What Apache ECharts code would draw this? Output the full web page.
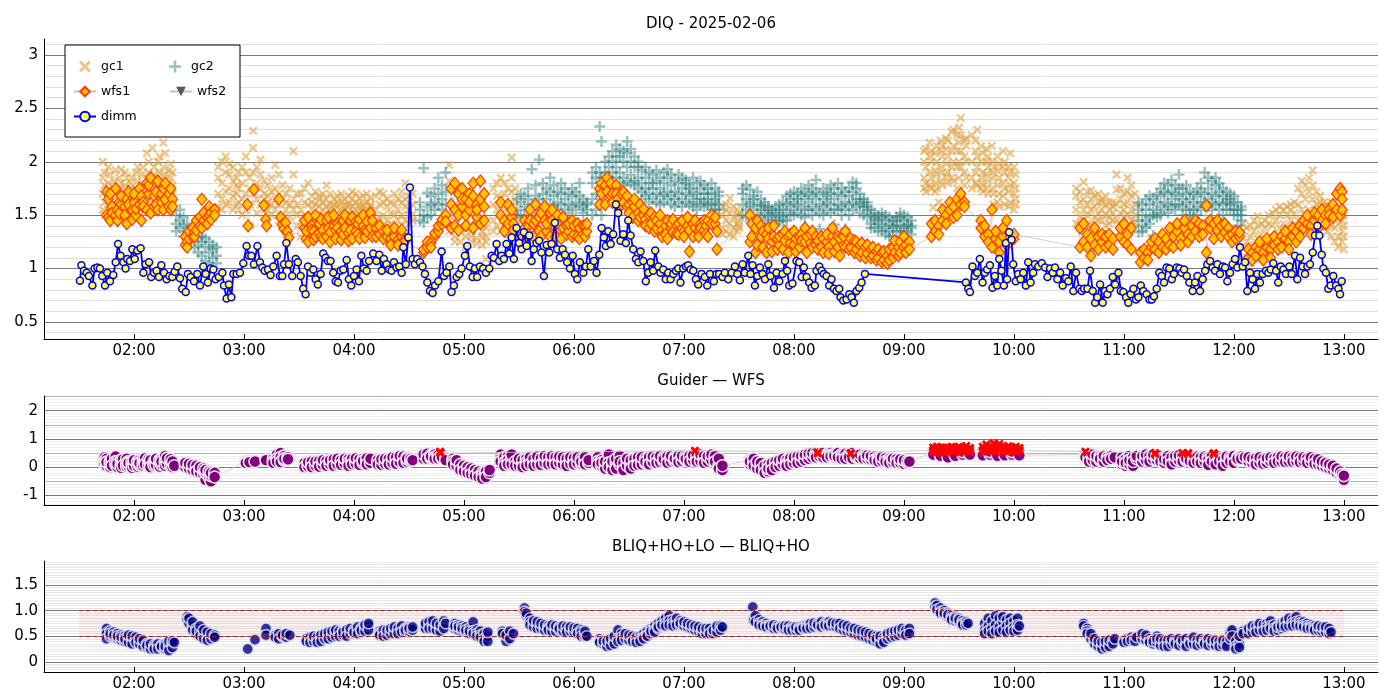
<!DOCTYPE html>
<html><head><meta charset="utf-8">
<script src="https://cdn.jsdelivr.net/npm/echarts@6/dist/echarts.min.js"></script>
<style>html,body{margin:0;padding:0;background:#fff}#c{width:1400px;height:700px}</style>
</head><body><div id="c"></div>
<script>
// time in minutes after 00:00
const hourTicks=[120,180,240,300,360,420,480,540,600,660,720,780];
const hourLabels=['02:00','03:00','04:00','05:00','06:00','07:00','08:00','09:00','10:00','11:00','12:00','13:00'];
const topMajor=[0.5,1,1.5,2,2.5,3], topLabels=['0.5','1','1.5','2','2.5','3'];
const midMajor=[-1,0,1,2], midLabels=['-1','0','1','2'], midHalf=[-0.5,0.5,1.5,2.5];
const botMajor=[0,0.5,1,1.5], botLabels=['0','0.5','1.0','1.5'];
const thresholds=[0.5,1.0];
const bandSpan=[90,780];

// rows: [time, value, value, ...]
const gc1Rows=[
[103,1.7,1.85,1.55,2.0],[104,1.78,1.62,1.9,1.5],[106,1.65,1.8,1.95,1.55],[107,1.72,1.88,1.6,1.5],[109,1.68,1.82,1.58,1.75],[110,1.92,1.7,1.6,1.5],[112,1.75,1.85,1.62,1.52],[113,1.7,1.8,1.58,1.93],[115,1.66,1.78,1.9,1.55],[116,1.72,1.85,1.6,1.5],[118,1.68,1.8,1.58,1.75],[119,1.85,1.7,1.62,1.52],[121,1.75,1.9,1.6,1.55],[122,1.7,1.82,1.95,1.58],[124,1.78,1.65,1.88,1.55],[125,1.8,1.95,1.68,1.6],[127,1.85,2.08,1.7,1.62],[128,1.9,1.75,2.0,1.65],[130,1.82,2.13,1.7,1.6],[131,1.95,1.78,1.88,1.62],[133,1.85,2.0,1.72,1.6],[134,1.9,1.78,1.68,2.05],[136,1.82,1.95,1.7,2.18],[137,1.88,2.08,1.75,1.65],[139,1.8,1.92,1.7,1.62],[140,1.85,1.75,1.98,1.6],[141,1.78,1.7,1.9,1.65],
[166,1.7,1.85,1.58,1.95],[168,1.8,1.65,2.0,1.55],[170,1.9,1.72,1.6,2.05],[172,1.75,1.88,1.62,1.98],[174,1.82,1.68,1.55,1.95],[176,1.7,1.85,1.6,1.78],[177,1.75,1.62,1.9,1.55],
[179,1.8,1.65,1.95,1.5],[181,1.9,1.7,2.05,1.55],[183,1.85,1.6,1.75,1.4],[185,2.29,2.13,1.9,1.7],[187,1.8,1.95,1.65,1.52],[189,1.75,1.88,1.6,2.02],[191,1.7,1.82,1.55,1.65],[193,1.68,1.78,1.55,1.62],[195,1.72,1.6,1.85,1.5],[197,1.97,1.65,1.75,1.55],
[199,1.88,1.6,1.7,1.45],[201,1.65,1.5,1.78,1.4],[203,1.7,1.55,1.62,1.35],[205,1.6,1.75,1.48,1.3],[207,2.1,1.88,1.55,1.65],[209,1.6,1.5,1.7,1.4],
[211,1.55,1.7,1.4,1.3],[213,1.62,1.5,1.75,1.28],[215,1.48,1.6,1.8,1.35],[217,1.55,1.68,1.45,1.62],[219,1.6,1.5,1.72,1.48],[221,1.58,1.68,1.5,1.65],[223,1.62,1.55,1.7,1.5],[225,1.58,1.65,1.48,1.78],[227,1.6,1.52,1.7,1.55],[229,1.65,1.55,1.6,1.5],[231,1.58,1.68,1.5,1.62],[233,1.62,1.52,1.7,1.55],[235,1.55,1.65,1.6,1.5],[237,1.6,1.68,1.52,1.58],[239,1.58,1.5,1.65,1.72],[241,1.62,1.55,1.7,1.5],[243,1.56,1.66,1.6,1.5],[245,1.6,1.52,1.68,1.58],[247,1.55,1.62,1.7,1.5],[249,1.6,1.52,1.66,1.58],
[252,1.55,1.68,1.45,1.35],[254,1.6,1.48,1.72,1.3],[256,1.5,1.62,1.4,1.7],[258,1.58,1.45,1.65,1.35],[260,1.52,1.62,1.42,1.3],[262,1.6,1.5,1.7,1.38],[264,1.55,1.65,1.45,1.32],[266,1.62,1.5,1.72,1.4],[268,1.8,1.58,1.45,1.65],[270,1.55,1.68,1.42,1.5],[272,1.6,1.5,1.7,1.45],
[292,1.97,1.82,1.5,1.35],[295,1.45,1.3,1.6,1.25],[298,1.4,1.25,1.55,1.35],[301,1.45,1.3,1.2,1.38],[304,1.35,1.25,1.42,1.3],[307,1.4,1.28,1.23,1.5],[310,1.35,1.22,1.3,1.45],[312,1.09,1.3,1.38,1.25],
[316,1.6,1.75,1.45,1.35],[318,1.8,1.55,1.68,1.4],[320,1.65,1.85,1.5,1.35],[322,1.7,1.55,1.8,1.42],[324,1.6,1.75,1.48,1.32],[326,1.72,1.58,1.85,2.04],[328,1.65,1.5,1.75,1.4],
[441,1.5,1.38,1.58,1.32],[443,1.45,1.55,1.35,1.6],[445,1.66,1.42,1.52,1.32],[447,1.48,1.58,1.38,1.3],[449,1.55,1.42,1.5,1.35],[450,1.45,1.52,1.38,1.4],
[551,1.85,2.0,1.75,2.1],[552,1.95,1.8,2.12,1.72],[554,1.9,2.05,1.78,2.18],[555,2.0,1.85,1.75,2.1],[556,1.57],[557,1.92,2.08,1.8,1.72],[558,2.15,1.88,2.0,1.75],[559,1.62],[560,1.95,2.1,1.82,2.2],[561,2.05,1.9,1.78,2.15],[563,1.98,2.12,1.85,2.22],[564,2.05,1.9,2.2,1.8],[566,2.1,1.95,2.28,1.85],[567,2.0,2.15,1.82,2.3],[569,2.1,1.95,2.25,1.75],[570,2.0,2.18,1.85,2.32],[571,2.41,2.1,1.95,2.25],[573,2.05,2.2,1.9,1.78],[574,2.15,2.0,1.85,2.22],
[577,2.0,2.25,1.85,1.75],[579,2.1,1.9,2.2,1.8],[580,1.95,2.05,1.78,2.3],[582,2.0,1.85,2.15,1.75],[583,1.9,2.08,1.8,1.72],[585,2.0,1.88,2.12,1.75],[586,1.95,1.82,2.05,1.7],[588,1.9,2.0,1.75,2.15],[589,1.85,1.95,1.7,1.6],[591,1.92,1.78,2.05,1.62],[592,1.85,1.98,1.7,1.58],[594,1.8,1.95,1.68,2.1],[595,1.9,1.75,2.0,1.6],[597,1.85,1.72,1.95,1.58],[598,1.78,1.9,2.08,1.62],[600,1.8,1.7,1.95,1.55],[601,1.75,1.88,1.65,1.6],
[634,1.55,1.68,1.42,1.75],[636,1.62,1.48,1.72,1.4],[638,1.81,1.55,1.65,1.45],[640,1.6,1.72,1.5,1.4],[642,1.73,1.55,1.65,1.42],[644,1.58,1.68,1.48,1.38],[646,1.62,1.52,1.7,1.45],[648,1.55,1.65,1.45,1.62],[650,1.6,1.5,1.68,1.4],[652,1.55,1.62,1.48,1.42],[654,1.58,1.45,1.52,1.62],
[656,1.88,1.6,1.74,1.45],[658,1.65,1.52,1.75,1.42],[660,1.6,1.7,1.48,1.55],[662,1.85,1.62,1.5,1.72],[664,1.68,1.55,1.78,1.45],[666,1.6,1.7,1.5,1.42],
[725,1.2,1.35,1.1,1.42],[727,1.25,1.1,1.38,1.05],[729,1.3,1.15,1.4,1.2],[731,1.22,1.35,1.12,1.45],[733,1.28,1.4,1.18,1.49],[735,1.32,1.2,1.42,1.15],[737,1.38,1.25,1.45,1.2],[739,1.3,1.42,1.22,1.5],[741,1.4,1.28,1.52,1.25],[743,1.45,1.3,1.55,1.22],[745,1.38,1.5,1.3,1.58],[747,1.42,1.55,1.32,1.25],[749,1.5,1.35,1.58,1.28],[751,1.45,1.55,1.38,1.6],[753,1.52,1.4,1.62,1.35],[755,1.6,1.45,1.75,1.38],[757,1.55,1.7,1.45,1.82],[759,1.65,1.5,1.78,1.4],[761,1.72,1.55,1.85,1.48],[763,1.92,1.65,1.78,1.5],[765,1.6,1.72,1.45,1.55],[767,1.55,1.68,1.4,1.62],[769,1.5,1.62,1.38,1.58],[771,1.45,1.58,1.35,1.6],[773,1.52,1.4,1.62,1.3],[775,1.48,1.38,1.55,1.25],[777,1.42,1.52,1.3,1.2],[779,1.45,1.35,1.25,1.55],[780,1.4,1.3,1.5,1.18]
];
const gc2Rows=[
[143,1.5,1.42,1.35],[145,1.45,1.55,1.38],[147,1.48,1.3,1.4],[149,1.42,1.35,1.28],[151,1.38,1.25,1.32],[153,1.3,1.2,1.35],[155,1.22,1.3,1.15],[157,1.25,1.12,1.3],[159,1.2,1.07,1.28],[161,1.15,1.25,1.05],[163,1.18,1.1,1.22],[165,1.12,1.2,1.05],
[276,1.55,1.45,1.62],[278,1.94,1.5,1.43],[280,1.71,1.58,1.48],[282,1.6,1.5,1.68],[284,1.75,1.62,1.55],[286,1.85,1.7,1.6],[288,1.65,1.78,1.55],[290,1.72,1.6,1.9],
[329,1.55,1.65,1.5],[331,1.62,1.5,1.7],[333,1.58,1.68,1.48],[335,1.65,1.55,1.75],[337,1.93,1.6,1.52],[339,1.68,1.58,1.78],[341,2.02,1.65,1.55],[343,1.7,1.6,1.8],[345,1.65,1.75,1.55],[347,1.72,1.6,1.85],[349,1.68,1.78,1.58],[351,1.62,1.72,1.55],[353,1.7,1.6,1.8],[355,1.65,1.75,1.55],[357,1.6,1.7,1.52],[359,1.68,1.58,1.75],[361,1.62,1.72,1.55],[363,1.8,1.6,1.68],[365,1.58,1.65,1.52],[367,1.62,1.55,1.6],
[370,1.8,1.65,1.9,1.5],[372,1.7,1.85,1.55,1.95],[374,2.33,1.75,1.6,1.9],[375,2.19,1.85,1.68,1.5],[377,1.9,1.75,2.0,1.6],[379,2.05,1.85,1.95,1.78],[381,1.9,2.1,1.82,2.0],[383,2.16,1.95,1.85,2.05],[385,1.9,2.05,1.8,2.12],[387,2.0,1.85,2.1,1.78],[389,1.95,2.08,1.82,2.19],[391,1.88,2.0,1.8,2.12],[393,1.95,1.82,2.05,1.78],[395,1.85,1.95,1.75,2.0],[397,1.8,1.92,1.72,1.65],[399,1.85,1.75,1.95,1.68],[401,1.8,1.7,1.9,1.62],[403,1.75,1.88,1.65,1.8],[405,1.82,1.7,1.92,1.62],[407,1.75,1.85,1.68,1.6],[409,1.8,1.7,1.9,1.62],[411,1.72,1.85,1.65,1.93],[413,1.78,1.68,1.88,1.6],[415,1.72,1.82,1.65,1.58],[417,1.8,1.7,1.88,1.62],[419,1.75,1.65,1.85,1.58],[421,1.7,1.8,1.62,1.83],[423,1.78,1.68,1.6,1.75],[425,1.72,1.85,1.62,1.58],[427,1.8,1.7,1.65,1.55],[429,1.75,1.65,1.82,1.6],[431,1.7,1.78,1.62,1.58],[433,1.75,1.65,1.7,1.6],[435,1.7,1.6,1.8,1.55],[437,1.65,1.75,1.55,1.62],[439,1.72,1.6,1.68,1.55],
[452,1.6,1.75,1.5,1.7],[454,1.78,1.55,1.65,1.48],[456,1.62,1.74,1.5,1.58],[458,1.55,1.68,1.45,1.65],[460,1.6,1.5,1.72,1.45],[462,1.55,1.65,1.48,1.59],[464,1.52,1.62,1.45,1.58],[466,1.5,1.58,1.42,1.55],[468,1.48,1.55,1.42,1.52],[470,1.52,1.45,1.58,1.42],[472,1.5,1.55,1.44,1.6],[474,1.55,1.48,1.62,1.45],[476,1.6,1.52,1.68,1.45],[478,1.58,1.65,1.5,1.7],[480,1.62,1.55,1.72,1.5],[482,1.6,1.7,1.52,1.65],[484,1.58,1.68,1.5,1.75],[486,1.65,1.55,1.72,1.48],[488,1.62,1.7,1.55,1.78],[490,1.68,1.58,1.75,1.5],[492,1.83,1.65,1.55,1.72],[494,1.6,1.7,1.37,1.52],[496,1.65,1.58,1.75,1.5],[498,1.62,1.72,1.55,1.68],[500,1.7,1.6,1.78,1.52],[502,1.65,1.75,1.55,1.41],[504,1.7,1.6,1.8,1.55],[506,1.68,1.58,1.75,1.5],[508,1.62,1.72,1.37,1.55],[510,1.68,1.6,1.76,1.5],[512,1.72,1.62,1.81,1.55],[514,1.65,1.75,1.58,1.8],[516,1.6,1.7,1.52,1.65],[518,1.58,1.65,1.5,1.62],[520,1.55,1.62,1.48,1.58],[522,1.5,1.42,1.55,1.38],[524,1.45,1.52,1.38,1.48],[526,1.42,1.5,1.35,1.46],[528,1.48,1.4,1.52,1.35],[530,1.45,1.38,1.5,1.32],[532,1.42,1.48,1.35,1.3],[534,1.45,1.38,1.4,1.3],[536,1.4,1.48,1.35,1.45],[538,1.48,1.4,1.35,1.52],[540,1.45,1.38,1.5,1.34],[542,1.42,1.35,1.48,1.4],[544,1.45,1.38,1.4,1.32],
[668,1.45,1.55,1.34,1.62],[670,1.5,1.4,1.6,1.35],[672,1.55,1.45,1.65,1.38],[674,1.6,1.48,1.68,1.42],[676,1.55,1.65,1.31,1.5],[678,1.62,1.52,1.7,1.48],[680,1.68,1.58,1.75,1.5],[682,1.62,1.72,1.55,1.8],[684,1.7,1.6,1.78,1.52],[686,1.83,1.65,1.58,1.72],[688,1.7,1.6,1.78,1.55],[690,1.88,1.68,1.6,1.75],[692,1.65,1.75,1.58,1.5],[694,1.7,1.62,1.55,1.78],[696,1.65,1.55,1.72,1.5],[698,1.62,1.7,1.55,1.48],[700,1.68,1.58,1.75,1.5],[702,1.72,1.62,1.55,1.8],[704,1.9,1.7,1.62,1.58],[706,1.75,1.65,1.85,1.58],[708,1.7,1.82,1.62,1.55],[710,1.78,1.68,1.6,1.85],[712,1.72,1.62,1.8,1.55],[714,1.68,1.75,1.6,1.5],[716,1.65,1.72,1.55,1.62],[718,1.7,1.6,1.55,1.65],[720,1.62,1.55,1.68,1.5],[722,1.62,1.4,1.55,1.5],[724,1.58,1.5,1.55,1.45]
];
const wfs1Rows=[
[105,1.72,1.5],[106,1.65,1.48],[107,1.7,1.45],[108,1.58,1.52],[110,1.75,1.5],[111,1.55,1.45],[112,1.62,1.52],[113,1.6,1.68],[115,1.58,1.5],[116,1.65,1.42],[117,1.6,1.72],[119,1.55,1.46],[120,1.62,1.7],[121,1.5,1.56],[123,1.6,1.75],[124,1.68,1.45],[125,1.62,1.58],[127,1.8,1.55],[128,1.7,1.78],[129,1.85,1.52],[131,1.68,1.58],[132,1.6,1.72],[133,1.82,1.55],[135,1.7,1.62],[136,1.75,1.55],[137,1.65,1.8],[139,1.7,1.58],[140,1.75,1.55],[141,1.65,1.58],
[148,1.22,1.3],[149,1.25,1.2],[150,1.28,1.35],[152,1.3,1.38],[153,1.34,1.3],[154,1.36,1.45],[156,1.4,1.48],[157,1.65,1.38],[158,1.45,1.52],[160,1.48,1.42],[161,1.5,1.58],[162,1.52,1.46],[164,1.55,1.5],
[181.8,1.6],[182.2,1.4],[185.4,1.74],[190.9,1.59],[191.8,1.46],[192.3,1.4],[199,1.65],[200,1.48],[200.9,1.41],[201.8,1.37],[202.7,1.43],[203.6,1.35],[204.5,1.29],
[213,1.38,1.45],[214,1.28,1.35],[215,1.48,1.25],[217,1.4,1.36],[218,1.27,1.35],[219,1.5,1.3],[221,1.33,1.42],[222,1.3,1.46],[223,1.36,1.28],[225,1.45,1.3],[226,1.38,1.48],[227,1.34,1.25],[229,1.4,1.5],[230,1.36,1.28],[231,1.42,1.38],[233,1.35,1.27],[234,1.32,1.45],[235,1.38,1.5],[237,1.33,1.26],[238,1.45,1.36],[239,1.28,1.48],[241,1.35,1.44],[242,1.42,1.32],[243,1.46,1.28],[245,1.4,1.5],[246,1.36,1.29],[247,1.44,1.35],[249,1.38,1.52],[250,1.3,1.45],
[252,1.38,1.3],[254,1.32,1.4],[256,1.35,1.28],[258,1.3,1.36],[260,1.28,1.22],[262,1.3,1.38],[264,1.27,1.22],[266,1.3,1.36],[268,1.28,1.26],
[278,1.15,1.18],[280,1.2,1.25],[282,1.24,1.2],[284,1.3,1.33],[286,1.35,1.4],[288,1.42,1.46],[290,1.5,1.44],
[293,1.6,1.75,1.38],[295,1.8,1.55,1.4],[297,1.7,1.5,1.36],[299,1.75,1.58,1.65],[301,1.65,1.5,1.4],[303,1.55,1.7,1.62],[305,1.68,1.8,1.38],[307,1.6,1.48,1.55],[309,1.82,1.65,1.42],[311,1.7,1.58,1.45],
[320,1.5,1.62],[322,1.45,1.35],[324,1.6,1.42],[326,1.48,1.55],[327,1.42,1.36],
[332,1.35,1.3],[333,1.45,1.38],[335,1.4,1.32],[336,1.55,1.45],[338,1.42,1.3],[339,1.6,1.45],[341,1.48,1.35],[342,1.52,1.3],[344,1.45,1.58],[345,1.35,1.42],[347,1.52,1.3],[348,1.45,1.55],[350,1.38,1.3],[351,1.42,1.5],[353,1.36,1.28],[354,1.48,1.38],[356,1.4,1.32],[357,1.35,1.42],[359,1.45,1.3],[360,1.32,1.4],[362,1.42,1.3],[363,1.38,1.28],[365,1.32,1.4],[366,1.4,1.3],[367,1.35,1.42],
[374,1.6,1.75],[375,1.7,1.8],[377,1.78,1.6],[378,1.72,1.85],[380,1.8,1.68],[381,1.7,1.62],[383,1.78,1.7],[384,1.65,1.58],[386,1.7,1.6],[387,1.62,1.72],[389,1.68,1.58],[390,1.6,1.52],[392,1.62,1.48],[393,1.58,1.65],[395,1.52,1.45],[396,1.6,1.48],[398,1.5,1.56],[399,1.46,1.4],[401,1.5,1.38],[402,1.42,1.52],[404,1.48,1.35],[405,1.38,1.45],[407,1.42,1.5],[408,1.36,1.3],[410,1.4,1.32],[411,1.45,1.28],[413,1.38,1.42],[414,1.34,1.46],[416,1.4,1.33],[417,1.32,1.42],[419,1.38,1.45],[420,1.35,1.3],[422,1.4,1.48],[423,1.36,1.16],[425,1.42,1.3],[426,1.38,1.45],[428,1.35,1.3],[429,1.42,1.38],[431,1.36,1.45],[432,1.4,1.32],[433,1.45,1.3],[435,1.5,1.42],[437,1.42,1.48],[438,1.35,1.18],
[456,1.5,1.25],[457,1.42,1.3],[459,1.38,1.15],[460,1.45,1.22],[462,1.3,1.4],[463,1.35,1.2],[465,1.32,1.15],[466,1.38,1.28],[468,1.25,1.16],[469,1.3,1.4],[471,1.28,1.18],[472,1.22,1.3],[474,1.32,1.18],[475,1.26,1.35],[477,1.3,1.15],[478,1.24,1.32],[480,1.35,1.22],[481,1.28,1.16],[483,1.2,1.3],[484,1.32,1.26],[486,1.25,1.38],[487,1.3,1.15],[489,1.24,1.32],[490,1.2,1.35],[492,1.22,1.3],[493,1.26,1.18],[495,1.2,1.3],[496,1.28,1.15],[498,1.25,1.32],[499,1.2,1.14],[501,1.3,1.38],[502,1.25,1.16],[504,1.2,1.3],[505,1.28,1.12],[507,1.22,1.3],[508,1.35,1.2],[510,1.25,1.18],[511,1.2,1.28],[513,1.26,1.15],[514,1.18,1.25],[516,1.22,1.12],[517,1.15,1.24],[519,1.2,1.1],[520,1.14,1.22],[522,1.18,1.1],[523,1.12,1.2],[525,1.16,1.08],[526,1.1,1.18],[528,1.15,1.06],[529,1.08,1.16],[531,1.12,1.05],[532,1.18,1.08],[534,1.1,1.2],[535,1.15,1.26],[537,1.2,1.12],[538,1.25,1.15],[540,1.3,1.2],[541,1.22,1.15],[543,1.25,1.18],
[555,1.3,1.42],[557,1.35,1.45],[559,1.4,1.32],[561,1.45,1.55],[563,1.5,1.42],[565,1.55,1.62],[567,1.58,1.48],[569,1.65,1.5],[571,1.6,1.7],[573,1.62,1.58],
[582,1.45,1.38],[584,1.4,1.3],[586,1.32,1.25],[588,1.55,1.2],[590,1.28,1.35],[592,1.25,1.15],[594,1.3,1.38],[596,1.22,1.45],[598,1.3,1.25],[600,1.28,1.32],
[636,1.2,1.38],[638,1.25,1.42],[640,1.32,1.2],[642,1.28,1.12],[644,1.22,1.38],[646,1.3,1.18],[648,1.25,1.32],[650,1.3,1.2],[652,1.22,1.32],[654,1.28,1.18],
[658,1.3,1.38],[660,1.25,1.42],[662,1.32,1.22],[664,1.38,1.18],
[669,1.06,1.15],[671,1.1,1.18],[673,1.15,1.08],[675,1.2,1.25],[677,1.18,1.28],[679,1.25,1.15],[681,1.2,1.32],[683,1.28,1.18],[685,1.22,1.38],[687,1.3,1.2],[689,1.35,1.42],[691,1.28,1.22],[693,1.38,1.45],[695,1.32,1.25],[697,1.4,1.3],[699,1.35,1.45],[701,1.3,1.42],[703,1.4,1.32],[705,1.59,1.15],[707,1.38,1.45],[709,1.42,1.28],[711,1.36,1.45],[713,1.4,1.3],[715,1.34,1.42],[717,1.38,1.3],[719,1.32,1.25],[721,1.35,1.28],[723,1.3,1.34],
[728,1.1,1.18],[730,1.15,1.08],[732,1.12,1.2],[734,1.18,1.25],[736,1.15,1.08],[738,1.2,1.28],[740,1.18,1.1],[742,1.22,1.3],[744,1.25,1.18],[746,1.2,1.3],[748,1.28,1.35],[750,1.25,1.18],[752,1.3,1.38],[754,1.35,1.25],[756,1.3,1.4],[758,1.38,1.45],[760,1.42,1.5],[762,1.4,1.32],[764,1.45,1.52],[766,1.5,1.38],[768,1.45,1.55],[770,1.5,1.42],[772,1.55,1.5],[774,1.48,1.6],[776,1.55,1.7],[778,1.75,1.5],[779,1.72,1.65,1.55]
];
const wfs2Rows=[];
const dimm=[
[90.5,.885],[91.3,1.03],[92.7,.98],[94.2,.96],[95.4,.93],[97.3,.84],[98.5,1.0],[100,1.01],[101.4,1.0],[102.7,.93],[104.2,.84],[105.4,.96],[106.9,.88],[108.7,.94],[110,1.06],[111.3,1.23],[112.7,1.12],[114.2,1.06],[115.4,1.0],[116.3,1.09],[117.8,1.07],[119.1,1.18],[120.4,1.09],[121.8,1.17],[123.6,1.19],[125.1,.96],[126.3,1.04],[128.2,1.06],[129.4,.92],[130.9,.96],[132.3,.98],[133.6,.92],[134.9,1.03],[136.4,.96],[137.8,.9],[139.3,.93],[140.9,.92],[142.2,.97],[143.6,1.02],[145.1,.91],[146.3,.81],[148.2,.78],[149.4,.95],[150.9,.92],[152.7,.88],[154.5,.95],[156,.84],[157.8,1.02],[159.1,.95],[160.3,.87],[161.8,1.0],[163.3,.99],[164.5,.9],[166.3,.92],[168.2,.96],[169.1,.84],[170.5,.72],[171.8,.85],[173.1,.73],[174.2,.95],[176,.95],[177.8,.96],[179.6,1.05],[181.4,1.21],[182.7,1.12],[184,1.12],[185.4,1.04],[187.3,1.21],[188.7,1.06],[190,1.01],[191.3,.98],[193.1,.99],[194.5,.94],[196,1.02],[197.8,1.12],[199.6,.93],[200.9,.93],[201.8,1.04],[203.1,1.24],[204.5,1.04],[206.3,.93],[208.2,1.09],[209.4,1.06],[210.9,.93],[212.3,.81],[213.6,.76],[214.9,1.02],[216.3,.96],[217.8,.99],[219.1,.9],[220.3,.85],[221.8,.95],[223.2,1.14],[224.5,1.1],[225.8,1.07],[227.2,1.07],[228.7,.96],[230,.88],[231.3,.87],[232.7,.98],[234.2,.99],[236,1.08],[237.2,.9],[238.5,.84],[240,.93],[241.4,.99],[242.7,.88],[244,1.12],[245.4,1.0],[246.9,.98],[248.2,1.07],
[250.5,1.14],[252.3,1.07],[253.8,1.13],[255.1,.98],[256.3,1.09],[257.8,1.04],[259.2,.99],[260.5,.98],[261.8,1.06],[263.2,1.01],[264.7,1.02],[266,.96],[266.9,1.2],[268.3,1.04],[269.6,1.29],[270.5,1.76],[272,1.09],[273.2,1.04],[274.5,1.09],[276,1.06],[277.4,1.02],[278.7,.95],[280,.87],[281.4,.79],[282.9,.77],[284.2,.84],[286,.88],[287.8,1.16],[289.1,.93],[290.5,.96],[292,1.02],[293.2,.78],[294.5,.84],[296,.92],[297.4,.95],[298.7,1.0],[300.5,1.12],[301.8,1.21],[303.2,1.02],[304.7,.92],[306,1.0],[307.2,.92],[308.7,1.02],[310.5,1.0],[312,.96],[313.8,1.0],[315.1,1.12],[316.3,1.1],[317.8,1.23],[319.2,1.07],[320.5,1.12],[321.8,1.09],[323.2,1.23],[324.7,1.14],[326,1.29],[327.2,1.09],[328.7,1.38],[330.1,1.24],[331.4,1.18],[332.7,1.34],[334.2,1.21],[335.6,1.31],[336.9,1.07],[338.1,1.18],[339.6,1.24],[341,1.26],[342.3,1.15],[343.6,.93],[345.1,1.22],[346.5,1.15],[347.8,1.23],[349.6,1.43],[350.9,1.18],[352.3,1.1],[353.8,1.18],[355.1,1.13],[356.3,1.06],[357.8,1.0],[359.3,1.12],[360.5,.95],[361.8,.9],[363.2,1.06],[365.1,.96],[366.5,1.02],[367.8,1.18],[369.1,1.02],[370.9,1.07],[372.3,.96],[373.8,1.13],[375.1,1.38],[376.3,1.29],[377.4,1.21],[378.7,1.35],[380,1.23],[381.4,1.32],[382.9,1.6],[384.1,1.52],[385.4,1.26],[386.9,1.32],[388.3,1.24],[389.6,1.45],[390.9,1.31],[392.3,1.18],[393.8,1.09],[395.1,1.06],[396.3,1.16],[397.8,1.07],[399.2,.88],[400.5,.96],[401.8,1.06],[403.2,.98],[404.3,1.17],[406,1.02],[407.2,.96],[408.7,.99],[410.1,.9],[411.4,.96],[412.7,.9],[414.2,.95],[415.6,.98],[416.9,1.0],[418.1,.87],[419.6,1.0],[421.1,1.02],[422.3,1.03],[423.6,.99],[425.1,.98],[426.5,.9],[427.8,.85],
[429.6,.95],[431.4,.92],[432.7,.84],[434.2,.95],[436.3,.88],[437.8,.95],[439.2,.95],[441,.92],[442.3,.96],[444.2,.9],[446,.96],[447.8,1.02],[449.1,.95],[450.5,.89],[452,1.04],[453.2,.96],[455.1,1.12],[456.3,.95],[457.4,1.03],[458.7,.84],[460,.93],[461.4,1.01],[462.9,.95],[464.2,.9],[466,1.04],[467.2,.93],[469.1,.82],[470.5,.96],[472,.88],[473.8,.95],[475.1,1.07],[476.3,.98],[477.4,.84],[479.2,.86],[481.4,1.07],[482.9,1.06],[484.2,.92],[485.4,1.01],[486.9,.92],[488.3,.87],[489.6,.82],[491.4,.84],[492.3,.98],[493.8,1.02],[495.1,.98],[496.3,.95],[497.8,.93],[499.2,.84],[500.5,.9],[501.8,.81],[503.2,.79],[504.7,.81],[505.4,.73],[506.9,.7],[508.7,.71],[510.2,.76],[511.4,.73],[512.7,.68],[514.1,.79],[515.6,.82],[516.9,.87],[518.7,.95],[573.8,.87],[575.1,.81],[576,.78],[577.4,1.02],[578.7,.93],[580,.96],[581.4,1.09],[582.9,.87],[584.2,.96],[585.4,.99],[586.9,1.03],[588.3,.82],[589.6,.93],[590.9,.84],[592,1.09],[593.2,.98],[594.5,.84],[595.6,1.24],[596.3,.9],[597.4,1.34],[598.7,1.27],[599.6,1.04],[601,.88],[602.3,.95],[603.6,.9],[605.1,.96],[606.5,.84],[607.8,1.06],[609.1,.87],
[610.5,.96],[611.5,1.04],[613.3,1.02],[615.2,1.05],[617,1.01],[618.3,.92],[619.7,1.0],[621.2,.96],[622.4,1.01],[623.7,.9],[625.2,.96],[626.6,.84],[628.4,.91],[629.7,.88],[631,1.02],[632.4,.79],[633.9,.96],[635.7,.81],[637,.79],[638.3,.81],[640.1,.81],[641.5,.98],[643,.79],[644.3,.68],[645.5,.73],[647,.85],[648.4,.68],[649.7,.79],[651,.76],[652.4,.81],[653.9,.92],[655.2,.85],[657,.96],[658.3,.79],[659.7,.78],[661.2,.73],[662.4,.68],[663.7,.76],[665.2,.81],[666.6,.71],[667.9,.73],[669.2,.84],[670.6,.79],[672.4,.76],[673.9,.71],[675.2,.71],[676.4,.74],[677.9,.81],[679.3,.96],[680.6,.93],[681.9,.87],[683.3,1.01],[684.8,1.0],[686.1,.9],[687.3,.95],[688.8,1.01],[690.3,1.0],[691.5,.96],[692.8,.99],[694.3,.93],[695.7,.87],[697.5,.79],[698.8,.87],[700.1,.93],[701.5,.79],[703,.9],[704.3,.98],[705.5,1.04],[707,1.07],[708.4,1.01],[709.7,.98],[711,1.04],[712.4,.95],[713.9,1.02],[715.2,1.01],[716.4,.88],[717.9,.96],[719.3,1.04],[720.6,1.09],[721.9,1.01],[723.3,1.2],[724.8,1.02],[726.1,1.06],[727.3,.79],[728.8,.96],[730.2,.9],[731.5,.81],[732.8,.95],[734.2,.87],[735.7,.95],[737.5,.98],[738.8,.96],[740.1,.99],[741.5,1.05],[743,.98],[744.2,.87],[745.5,1.02],[747,.99],[748.4,.95],[750.2,1.02],[751.5,.95],[753.3,1.12],[754.6,.9],[756.1,1.1],[757.5,1.02],[758.8,.95],[760.1,1.02],[761.5,1.04],[763,1.15],[764.2,1.31],[765.5,1.4],[766.6,1.31],[767.9,1.13],[768.8,1.0],[770.2,.96],[771.5,.81],[772.8,.84],[774.2,.93],[775.7,.84],[777,.81],[777.9,.76],[778.8,.88]
];
const guiderRows=[
[104,0.35,0.2,0.1],[105,0.3,0.05,0.18],[107,0.22,0.0,0.12],[108,0.15,0.3,0.05],[110,0.38,0.1,0.2],[111,0.2,0.0,0.12],[113,0.25,0.08,-0.02],[114,0.15,0.28,0.05],[116,0.3,0.12,0.02],[117,0.2,0.05,0.15],[119,0.1,0.22,-0.02],[120,0.18,0.05,0.25],[122,0.12,0.2,0.02],[123,0.25,0.08,0.15],[125,0.3,0.15,0.05],[126,0.2,0.32,0.1],[128,0.28,0.12,0.05],[129,0.15,0.25,0.0],[131,0.1,0.2,0.05],[132,0.22,0.08,0.3],[134,0.15,0.02,0.25],[135,0.28,0.1,0.2],[137,0.4,0.2,0.05],[138,0.25,0.12,0.32],[140,0.18,0.05,0.28],[141,0.1,0.0,0.2],[142,0.05],
[148,0.1,0.0,0.15],[150,0.05,-0.05,0.12],[152,0.0,-0.1,0.08],[154,-0.05,0.05,-0.15],[156,-0.1,-0.2,0.0],[158,-0.15,-0.3,-0.05],[159,-0.45,-0.2,-0.1],[161,-0.25,-0.35,-0.15],[162,-0.5,-0.3,-0.2],[164,-0.2,-0.35],
[181,0.2,0.15],[183,0.22,0.18],[186,0.2],[192,0.25],[196,0.3,0.2,0.15],[198,0.45,0.3,0.2],[200,0.5,0.35,0.18],[202,0.4,0.25,0.3],[204,0.35,0.28],
[213,0.05,0.15,0.0],[215,0.1,0.02,0.18],[217,0.08,0.2,0.0],[219,0.15,0.05,0.2],[221,0.1,0.22,0.02],[223,0.18,0.08,0.25],[225,0.12,0.22,0.05],[227,0.2,0.1,0.25],[229,0.15,0.28,0.05],[231,0.22,0.1,0.3],[233,0.18,0.25,0.08],[235,0.22,0.12,0.3],[237,0.28,0.15,0.05],[239,0.2,0.3,0.1],[241,0.25,0.12,0.32],[243,0.18,0.28,0.08],[245,0.3,0.15,0.22],[247,0.22,0.32,0.1],[249,0.25,0.15,0.3],
[253,0.15,0.25,0.1],[255,0.2,0.08,0.28],[257,0.25,0.12,0.3],[259,0.18,0.3,0.1],[261,0.28,0.15,0.35],[263,0.22,0.35,0.12],[265,0.3,0.18,0.4],[267,0.25,0.38,0.15],[269,0.35,0.2,0.3],[271,0.22,0.3],[272,0.25],
[278,0.4,0.3,0.45],[280,0.35,0.48,0.3],[282,0.42,0.32,0.38],[284,0.45,0.35,0.3],[286,0.38,0.42,0.3],[288,0.45,0.3,0.35],[290,0.32,0.25],
[294,0.3,0.2,0.1],[296,0.15,0.05,0.25],[298,0.0,0.1,-0.1],[300,-0.05,0.05,-0.15],[302,-0.1,0.0,-0.2],[304,-0.15,-0.05,-0.25],[306,-0.2,-0.1,-0.3],[308,-0.25,-0.15,-0.35],[310,-0.2,-0.3,-0.4],[312,-0.25,-0.15,-0.35],[314,-0.2,-0.1],
[320,0.45,0.3,0.2],[322,0.35,0.15,0.05],[324,0.4,0.25,0.1],[326,0.3,0.1,0.45],[328,0.2,0.05],
[330,0.2,0.05,0.3],[332,0.1,0.25,0.0],[334,0.3,0.15,0.05],[336,0.22,0.35,0.1],[338,0.15,0.3,0.05],[340,0.25,0.1,0.38],[342,0.2,0.32,0.08],[344,0.3,0.15,0.4],[346,0.22,0.35,0.1],[348,0.28,0.12,0.4],[350,0.2,0.35,0.1],[352,0.3,0.15,0.38],[354,0.25,0.1,0.35],[356,0.18,0.3,0.05],[358,0.28,0.12,0.35],[360,0.2,0.32,0.1],[362,0.25,0.15,0.35],[364,0.3,0.12,0.2],[366,0.22,0.35,0.1],[368,0.15,0.25],
[373,0.35,0.2,0.1],[375,0.25,0.05,0.15],[377,0.1,-0.05,0.2],[379,0.45,0.15,0.0],[381,0.05,-0.1,0.2],[383,0.15,0.3,-0.05],[385,0.4,0.1,0.2],[387,0.0,0.15,-0.1],[389,0.2,0.05,0.3],[391,0.1,0.25,-0.05],[393,0.15,0.3,0.05],[395,0.2,0.35,0.08],[397,0.25,0.1,0.35],[399,0.3,0.15,0.2],[401,0.22,0.35,0.1],[403,0.3,0.18,0.38],[405,0.25,0.35,0.15],[407,0.3,0.18,0.4],[409,0.35,0.2,0.28],[411,0.25,0.38,0.15],[413,0.3,0.2,0.4],[415,0.35,0.22,0.3],[417,0.28,0.4,0.18],[419,0.32,0.22,0.4],[421,0.38,0.25,0.3],[423,0.3,0.4,0.2],[425,0.35,0.25,0.42],[427,0.3,0.4,0.2],[429,0.35,0.22,0.45],[431,0.28,0.4,0.15],[433,0.3,0.2,0.38],[435,0.35,0.25,0.45],[437,0.3,0.4,0.2],[439,0.05,0.3,-0.05],[441,-0.1,0.05],
[456,0.25,0.1,0.2],[458,0.15,0.3,0.05],[460,0.1,-0.05,0.2],[462,0.0,0.15,-0.1],[464,-0.1,0.05,-0.2],[466,-0.15,0.1,-0.05],[468,0.0,0.15,-0.1],[470,0.1,0.2,0.0],[472,0.15,0.05,0.25],[474,0.2,0.1,0.3],[476,0.25,0.12,0.05],[478,0.2,0.32,0.1],[480,0.28,0.15,0.35],[482,0.25,0.38,0.15],[484,0.3,0.2,0.4],[486,0.35,0.25,0.45],[488,0.4,0.3,0.48],[490,0.45,0.35,0.5],[492,0.5,0.4,0.35],[494,0.45,0.38,0.5],[496,0.42,0.35,0.5],[498,0.45,0.4,0.35],[500,0.5,0.42,0.38],[502,0.45,0.35,0.4],[504,0.42,0.5,0.35],[506,0.45,0.38,0.3],[508,0.4,0.48,0.3],[510,0.45,0.38,0.35],[512,0.5,0.4,0.3],[514,0.45,0.35,0.4],[516,0.4,0.32,0.45],[518,0.42,0.35,0.3],[520,0.38,0.3,0.42],[522,0.35,0.28,0.4],[524,0.3,0.38,0.25],[526,0.35,0.28,0.2],[528,0.3,0.22,0.35],[530,0.25,0.32,0.2],[532,0.3,0.22,0.15],[534,0.25,0.18,0.3],[536,0.2,0.28,0.15],[538,0.22,0.15,0.28],[540,0.2,0.12,0.25],[542,0.15,0.22],[543,0.2],
[556,0.55,0.45],[560,0.5,0.4],[564,0.55,0.35],[568,0.5,0.4],[572,0.45,0.55],[576,0.5,0.45],
[583,0.5,0.42],[587,0.45,0.55],[591,0.48,0.4],[595,0.5,0.42],[599,0.45,0.55],[603,0.5,0.42],
[639,0.45,0.35],[641,0.3,0.4,0.2],[643,0.35,0.25,0.45],[645,0.3,0.2,0.4],[647,0.38,0.25,0.3],[649,0.3,0.2,0.4],[651,0.35,0.25],[653,0.4,0.3],[655,0.35],
[659,0.35,0.1,0.2],[661,0.05,0.3,0.15],[663,0.4,0.1,0.25],[665,0.35,0.05,0.2],[667,0.3,0.4],
[670,0.3,0.2,0.4],[672,0.35,0.25,0.45],[674,0.3,0.4,0.2],[676,0.38,0.28,0.45],[678,0.35,0.25,0.4],[680,0.3,0.4,0.2],[682,0.35,0.15,0.28],[684,0.3,0.4,0.2],[686,0.25,0.35,0.1],[688,0.3,0.2,0.4],[690,0.35,0.25,0.42],[692,0.3,0.4,0.2],[694,0.38,0.25,0.3],[696,0.3,0.4,0.22],[698,0.35,0.25,0.15],[700,0.3,0.38,0.2],[702,0.28,0.35,0.15],[704,0.3,0.2,0.38],[706,0.35,0.25,0.08],[708,0.3,0.4,0.2],[710,0.35,0.25,0.1],[712,0.3,0.38,0.2],[714,0.35,0.25,0.05],[716,0.3,0.15,0.38],[718,0.35,0.25,0.2],[720,0.3,0.4,0.15],[722,0.35,0.25,0.3],[724,0.38,0.3],[726,0.35],
[728,0.3,0.2,0.35],[730,0.25,0.15,0.3],[732,0.2,0.32,0.1],[734,0.28,0.15,0.35],[736,0.2,0.3,0.12],[738,0.25,0.15,0.32],[740,0.3,0.2,0.35],[742,0.22,0.32,0.15],[744,0.28,0.35,0.2],[746,0.3,0.2,0.38],[748,0.25,0.35,0.18],[750,0.3,0.2,0.38],[752,0.28,0.35,0.2],[754,0.3,0.22,0.38],[756,0.25,0.35,0.18],[758,0.3,0.2,0.35],[760,0.25,0.32,0.15],[762,0.28,0.2,0.35],[764,0.22,0.3,0.12],[766,0.2,0.1,0.28],[768,0.15,0.05,0.2],[770,0.1,0.0,0.15],[772,0.05,-0.05,0.1],[774,0.0,-0.1,0.05],[776,-0.1,-0.2,-0.05],[778,-0.2,-0.3,-0.15],[779,-0.35,-0.25],[780,-0.45,-0.3]
];
const flaggedRows=[
[287,0.5,0.55],[426,0.58],[493,0.52,0.48],[511,0.5,0.47],
[556,0.6,0.7,0.55],[558,0.65,0.55,0.72],[560,0.6,0.7,0.5],[562,0.68,0.55,0.62],[564,0.58,0.7,0.52],[566,0.65,0.6,0.72],[568,0.55,0.68,0.6],[570,0.62,0.72,0.52],[572,0.6,0.68,0.55],[574,0.65,0.58,0.75],[576,0.62,0.55,0.68],
[583,0.6,0.72,0.55],[585,0.68,0.8,0.58],[587,0.75,0.62,0.55],[589,0.7,0.85,0.6],[590,0.65,0.78,0.52],[592,0.72,0.6,0.82],[594,0.68,0.55,0.75],[595,0.62,0.7,0.58],[597,0.66,0.58,0.74],[599,0.6,0.7,0.55],[601,0.65,0.55,0.72],[603,0.6,0.68,0.58],
[639,0.55],[677,0.5,0.47],[692,0.5],[695,0.5,0.47],[709,0.5,0.47]
];
const bliqRows=[
[105,0.65,0.55,0.45],[107,0.6,0.5,0.55],[109,0.58,0.48,0.52],[111,0.55,0.45,0.5],[113,0.52,0.42,0.48],[115,0.5,0.4,0.45],[117,0.48,0.38,0.52],[119,0.45,0.35,0.5],[121,0.42,0.48,0.38],[123,0.4,0.35,0.45],[125,0.38,0.3,0.42],[127,0.35,0.28,0.32],[129,0.3,0.25,0.35],[131,0.32,0.28,0.25],[133,0.3,0.35,0.25],[135,0.32,0.28,0.3],[137,0.35,0.25,0.3],[139,0.3,0.22,0.4],[141,0.35,0.28,0.4],[142,0.38],
[149,0.88,0.82],[150,0.75,0.85],[152,0.7,0.62,0.78],[154,0.65,0.55,0.6],[156,0.58,0.7,0.5],[158,0.52,0.62,0.45],[160,0.48,0.58,0.42],[162,0.5,0.45,0.55],[164,0.52,0.48],
[182,0.25],[186,0.43],[192,0.65,0.52],[197,0.52,0.48],[199,0.55,0.45],[201,0.5,0.52],[203,0.48,0.55],[205,0.52],
[214,0.45,0.4],[216,0.42,0.48,0.38],[218,0.45,0.4,0.5],[220,0.42,0.48,0.38],[222,0.45,0.52,0.4],[224,0.5,0.45,0.55],[226,0.52,0.45,0.58],[228,0.55,0.48,0.6],[230,0.58,0.5,0.62],[232,0.55,0.6,0.5],[234,0.6,0.52,0.58],[236,0.55,0.62,0.5],[238,0.6,0.55,0.65],[240,0.62,0.55,0.58],[242,0.6,0.68,0.55],[244,0.65,0.58,0.62],[246,0.68,0.6,0.72],[248,0.7,0.62,0.75],
[254,0.6,0.55,0.52],[256,0.55,0.62,0.5],[258,0.58,0.52,0.62],[260,0.6,0.55,0.65],[262,0.62,0.55,0.68],[264,0.6,0.65,0.55],[266,0.62,0.7,0.58],[268,0.65,0.58,0.62],[270,0.6,0.68,0.65],[272,0.62,0.68],
[279,0.7,0.65,0.75],[281,0.68,0.78,0.65],[283,0.72,0.65,0.8],[285,0.7,0.62,0.75],[287,0.68,0.6,0.72],[289,0.8,0.7,0.65],[290,0.75],
[295,0.75,0.65,0.7],[297,0.72,0.62,0.68],[299,0.7,0.6,0.65],[301,0.68,0.58,0.62],[303,0.65,0.55,0.6],[305,0.78,0.6,0.55],[307,0.62,0.55,0.5],[309,0.6,0.52,0.48],[311,0.55,0.45,0.4],[313,0.5,0.4,0.58],
[321,0.6,0.55],[323,0.4,0.52],[325,0.6,0.45],[327,0.55],
[333,1.05,0.98],[334,0.9,0.95],[336,0.85,0.78,0.72],[338,0.75,0.68,0.8],[340,0.72,0.65,0.78],[342,0.7,0.65,0.75],[344,0.68,0.62,0.72],[346,0.7,0.65,0.62],[348,0.68,0.6,0.72],[350,0.65,0.6,0.7],[352,0.68,0.62,0.65],[354,0.65,0.6,0.7],[356,0.62,0.68,0.58],[358,0.65,0.6,0.68],[360,0.62,0.58,0.66],[362,0.6,0.65,0.55],[364,0.62,0.58,0.5],[366,0.55,0.5,0.6],[367,0.5],
[374,0.45,0.4,0.38],[376,0.42,0.35,0.4],[378,0.35,0.3,0.4],[380,0.38,0.32,0.45],[382,0.4,0.35,0.5],[384,0.62,0.45,0.4],[386,0.55,0.48,0.42],[388,0.5,0.45,0.55],[390,0.48,0.42,0.52],[392,0.45,0.5,0.4],[394,0.42,0.48,0.38],[396,0.5,0.45,0.4],[398,0.55,0.48,0.45],[400,0.6,0.52,0.5],[402,0.65,0.55,0.6],[404,0.7,0.62,0.58],[406,0.75,0.65,0.68],[408,0.8,0.7,0.72],[410,0.85,0.75,0.7],[412,0.9,0.8,0.72],[414,0.82,0.75,0.7],[416,0.78,0.85,0.72],[418,0.8,0.72,0.75],[420,0.75,0.7,0.78],[422,0.72,0.68,0.75],[424,0.7,0.65,0.72],[426,0.68,0.62,0.7],[428,0.65,0.6,0.68],[430,0.62,0.55,0.65],[432,0.6,0.55,0.65],[434,0.58,0.65,0.55],[436,0.6,0.55,0.62],[438,0.65,0.58,0.7],[440,0.7,0.62],[441,0.68],
[457.5,1.07],[458,0.85,0.8],[459,0.9,0.78],[461,0.82,0.75,0.72],[463,0.78,0.72,0.7],[465,0.75,0.7,0.68],[467,0.72,0.68,0.7],[469,0.7,0.65,0.72],[471,0.68,0.7,0.65],[473,0.7,0.66,0.68],[475,0.68,0.64,0.7],[477,0.66,0.7,0.62],[479,0.68,0.64,0.62],[481,0.65,0.62,0.68],[483,0.68,0.64,0.62],[485,0.7,0.65,0.66],[487,0.72,0.68,0.65],[489,0.7,0.75,0.66],[491,0.72,0.68,0.76],[493,0.75,0.7,0.72],[495,0.72,0.78,0.68],[497,0.75,0.7,0.72],[499,0.78,0.72,0.7],[501,0.74,0.7,0.76],[503,0.72,0.68,0.75],[505,0.7,0.75,0.65],[507,0.68,0.62,0.72],[509,0.65,0.6,0.7],[511,0.62,0.58,0.66],[513,0.6,0.55,0.65],[515,0.58,0.52,0.62],[517,0.55,0.5,0.6],[519,0.52,0.48,0.58],[521,0.5,0.45,0.55],[523,0.48,0.42,0.52],[525,0.5,0.4,0.45],[527,0.45,0.35,0.5],[529,0.48,0.42,0.38],[531,0.5,0.45,0.55],[533,0.52,0.48,0.58],[535,0.55,0.5,0.6],[537,0.58,0.52,0.62],[539,0.6,0.55,0.65],[541,0.58,0.62,0.52],[543,0.65,0.55],
[557,1.15,1.08],[558,1.1,1.02],[560,1.05,0.98,0.95],[562,1.0,0.92,0.95],[564,0.95,0.88,0.92],[566,0.9,0.85,0.82],[568,0.88,0.8,0.85],[570,0.85,0.78,0.82],[572,0.8,0.75,0.72],[574,0.78,0.72],[575,0.75],
[584,0.75,0.62,0.55],[586,0.85,0.7,0.6],[588,0.8,0.65,0.55],[590,0.9,0.72,0.6],[592,0.85,0.68,0.58],[594,0.78,0.88,0.62],[596,0.82,0.7,0.58],[598,0.85,0.75,0.62],[600,0.8,0.68,0.6],[602,0.85,0.72,0.62],[603,0.7],
[638,0.75,0.7],[640,0.65,0.6,0.55],[642,0.5,0.45,0.55],[644,0.4,0.35,0.45],[646,0.35,0.3,0.4],[648,0.3,0.25,0.38],[650,0.32,0.28,0.4],[652,0.35,0.3,0.42],[654,0.4,0.35],[655,0.45],
[660,0.42,0.38],[662,0.45,0.4],[664,0.48,0.42],[666,0.45,0.4],[667,0.48],
[670,0.5,0.45,0.55],[672,0.48,0.42,0.52],[674,0.45,0.4,0.38],[676,0.42,0.35,0.4],[678,0.5,0.38,0.45],[680,0.4,0.32,0.45],[682,0.38,0.42,0.3],[684,0.35,0.42,0.3],[686,0.4,0.35,0.45],[688,0.42,0.38,0.35],[690,0.38,0.45,0.32],[692,0.4,0.35,0.42],[694,0.35,0.45,0.3],[696,0.42,0.38,0.35],[698,0.4,0.35,0.48],[700,0.38,0.42,0.32],[702,0.4,0.35,0.45],[704,0.42,0.38,0.35],[706,0.38,0.45,0.32],[708,0.4,0.35,0.42],[710,0.38,0.32,0.42],[712,0.35,0.4,0.3],[714,0.38,0.32,0.42],[716,0.35,0.4,0.3],[718,0.6,0.55,0.45],[719,0.62,0.5],[721,0.4,0.3,0.25],[723,0.35,0.28,0.5],[725,0.6,0.55],
[728,0.6,0.55,0.65],[730,0.65,0.58,0.7],[732,0.62,0.68,0.58],[734,0.7,0.62,0.75],[736,0.65,0.72,0.6],[738,0.75,0.68,0.62],[740,0.8,0.7,0.65],[742,0.72,0.65,0.6],[744,0.7,0.62,0.68],[746,0.75,0.65,0.7],[748,0.72,0.8,0.68],[750,0.78,0.7,0.85],[752,0.82,0.75,0.7],[754,0.88,0.78,0.72],[756,0.8,0.75,0.7],[758,0.78,0.72,0.68],[760,0.75,0.7,0.65],[762,0.72,0.68,0.65],[764,0.7,0.65,0.62],[766,0.68,0.62,0.7],[768,0.65,0.6,0.68],[770,0.62,0.58,0.68],[772,0.6,0.55,0.65],[773,0.58]
];

// ---------- build ----------
const expand = rows => rows.flatMap(r => r.slice(1).map(v => [r[0], v]));
const FONT = '"DejaVu Sans", "Liberation Sans", sans-serif';
const XSYM = 'path://M0,1.8L1.8,0L5,3.2L8.2,0L10,1.8L6.8,5L10,8.2L8.2,10L5,6.8L1.8,10L0,8.2L3.2,5Z';
const XSYM2 = 'path://M0,2.2L2.2,0L5,2.8L7.8,0L10,2.2L7.2,5L10,7.8L7.8,10L5,7.2L2.2,10L0,7.8L2.8,5Z';
const PSYM = 'path://M3.9,0H6.1V3.9H10V6.1H6.1V10H3.9V6.1H0V3.9H3.9Z';
const XMIN = 70.9, XMAX = 798.6;
const ranges = [[0.34,3.15],[-1.34,2.52],[-0.2,1.97]];
function steps(a,b,s,excl){const out=[];for(let i=0;;i++){const v=Math.round((a+i*s)*1000)/1000;if(v>b+1e-9)break;if(!excl.some(e=>Math.abs(e-v)<1e-6))out.push(v);}return out;}
const topMinor = steps(0.4,3.1,0.1,topMajor);
const midMinor = steps(-1.3,2.5,0.1,midMajor.concat(midHalf));
const botMinor = steps(-0.15,1.95,0.05,botMajor);
const hm = v => { const i = hourTicks.indexOf(v); return i>=0 ? hourLabels[i] : ''; };

function mainY(g, major, labels){
  return {type:'value', gridIndex:g, min:ranges[g][0], max:ranges[g][1], z:1,
    axisLine:{show:true, onZero:false, lineStyle:{color:'#000', width:1}},
    axisTick:{show:false, customValues:major},
    axisLabel:{customValues:major, fontSize:15, color:'#000', fontFamily:FONT, margin:6,
      formatter:v=>{const i=major.findIndex(m=>Math.abs(m-v)<1e-6);return i>=0?labels[i]:'';}},
    splitLine:{show:true, lineStyle:{color:'#7a7a7a', width:1}}};
}
function lineY(g, vals, color){
  return {type:'value', gridIndex:g, min:ranges[g][0], max:ranges[g][1], z:0, position:'left',
    axisLine:{show:false, onZero:false}, axisTick:{show:false, customValues:vals},
    axisLabel:{show:false, customValues:vals},
    splitLine:{show:true, lineStyle:{color:color, width:1}}};
}
function xAx(g){
  return {type:'value', gridIndex:g, min:XMIN, max:XMAX,
    axisLine:{show:true, onZero:false, lineStyle:{color:'#000', width:1}},
    axisTick:{show:true, inside:true, length:5, customValues:hourTicks, lineStyle:{color:'#000'}},
    axisLabel:{customValues:hourTicks, formatter:hm, fontSize:15, color:'#000', fontFamily:FONT, margin:5},
    splitLine:{show:false}};
}

const option = {
  animation:false,
  backgroundColor:'#fff',
  grid:[
    {left:44, right:22, top:39, height:300},
    {left:44, right:22, top:396, height:109},
    {left:44, right:22, top:561, height:111}
  ],
  xAxis:[xAx(0), xAx(1), xAx(2)],
  yAxis:[
    mainY(0, topMajor, topLabels),
    lineY(0, topMinor, '#dedede'),
    mainY(1, midMajor, midLabels),
    lineY(1, midHalf, '#b4b4b4'),
    lineY(1, midMinor, '#efefef'),
    mainY(2, botMajor, botLabels),
    lineY(2, botMinor, '#e6e6e6')
  ],
  legend:{
    left:73, top:58, orient:'horizontal', width:190, padding:0,
    itemWidth:22, itemHeight:12, itemGap:8, z:11,
    textStyle:{fontSize:12.5, color:'#000', fontFamily:FONT, width:60, lineHeight:17},
    data:['gc1','gc2','wfs1','wfs2','dimm']
  },
  graphic:[
    {type:'rect', z:10, shape:{x:65, y:45, width:175, height:92}, style:{fill:'#fff', stroke:'#000', lineWidth:1}},
    {type:'text', z:10, x:711, y:24, style:{text:'DIQ - 2025-02-06', textAlign:'center', textVerticalAlign:'middle', fontSize:15, fontFamily:FONT, fill:'#000'}},
    {type:'text', z:10, x:711, y:381, style:{text:'Guider — WFS', textAlign:'center', textVerticalAlign:'middle', fontSize:15, fontFamily:FONT, fill:'#000'}},
    {type:'text', z:10, x:711, y:547, style:{text:'BLIQ+HO+LO — BLIQ+HO', textAlign:'center', textVerticalAlign:'middle', fontSize:15, fontFamily:FONT, fill:'#000'}}
  ],
  series:[
    {name:'gc1', type:'scatter', xAxisIndex:0, yAxisIndex:0, data:expand(gc1Rows), symbol:XSYM, symbolSize:9,
      itemStyle:{color:'rgba(222,160,60,0.72)'}, z:2},
    {name:'gc2', type:'scatter', xAxisIndex:0, yAxisIndex:0, data:expand(gc2Rows), symbol:PSYM, symbolSize:11,
      itemStyle:{color:'rgba(50,128,128,0.62)'}, z:2},
    {name:'wfs1', type:'line', xAxisIndex:0, yAxisIndex:0, data:expand(wfs1Rows), symbol:'diamond', symbolSize:[10,12],
      lineStyle:{color:'#c4c4c4', width:0.8}, itemStyle:{color:'#ffc400', borderColor:'#ff3c00', borderWidth:1.2}, z:3},
    {name:'wfs2', type:'line', xAxisIndex:0, yAxisIndex:0, data:expand(wfs2Rows), symbol:'triangle', symbolRotate:180, symbolSize:8,
      lineStyle:{color:'#c4c4c4', width:0.8}, itemStyle:{color:'#555566'}, z:3},
    {name:'dimm', type:'line', xAxisIndex:0, yAxisIndex:0, data:dimm, symbol:'circle', symbolSize:7,
      lineStyle:{color:'#0000ee', width:1.8}, itemStyle:{color:'#ffff55', borderColor:'#0000ee', borderWidth:1.5}, z:5},
    {name:'guider', type:'line', xAxisIndex:1, yAxisIndex:2, data:expand(guiderRows), symbol:'circle', symbolSize:12,
      lineStyle:{color:'#c8c8c8', width:0.8}, itemStyle:{color:'#800080', borderColor:'#efe6ef', borderWidth:1.6}, z:3},
    {name:'flagged', type:'line', xAxisIndex:1, yAxisIndex:2, data:expand(flaggedRows), symbol:XSYM2, symbolSize:9,
      lineStyle:{color:'#c8c8c8', width:0.8}, itemStyle:{color:'#ff0000'}, z:4},
    {name:'bliq', type:'scatter', xAxisIndex:2, yAxisIndex:5, data:expand(bliqRows), symbol:'circle', symbolSize:11,
      itemStyle:{color:'#000080', borderColor:'#e4e4f2', borderWidth:1.6}, z:3,
      markArea:{silent:true, itemStyle:{color:'rgba(240,80,80,0.08)'},
        data:[[{coord:[bandSpan[0],thresholds[0]]},{coord:[bandSpan[1],thresholds[1]]}]]},
      markLine:{silent:true, symbol:'none', label:{show:false}, lineStyle:{color:'#b22222', type:[4,3], width:1.2},
        data:thresholds.map(y=>[{coord:[bandSpan[0],y]},{coord:[bandSpan[1],y]}])}}
  ]
};
const chart = echarts.init(document.getElementById('c'), null, {renderer:'canvas'});
chart.setOption(option);
</script>
</body></html>
